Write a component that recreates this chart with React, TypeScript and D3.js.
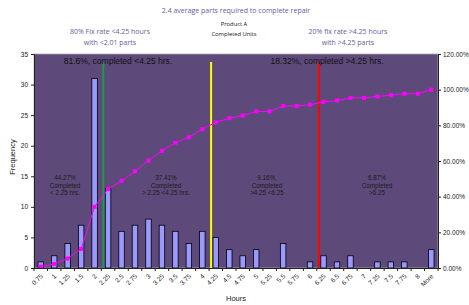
import React, { useEffect, useRef } from "react";
import * as d3 from "d3";

const hours = ["0.75", "1", "1.25", "1.5", "2", "2.25", "2.5", "2.75", "3", "3.25", "3.5", "3.75", "4", "4.25", "4.5", "4.75", "5", "5.25", "5.5", "5.75", "6", "6.25", "6.5", "6.75", "7", "7.25", "7.5", "7.75", "8", "More"];
const frequency = [1, 2, 4, 7, 31, 13, 6, 7, 8, 7, 6, 4, 6, 5, 3, 2, 3, 0, 4, 0, 1, 2, 1, 2, 0, 1, 1, 1, 0, 3];
const cumulative = [0.76, 2.29, 5.34, 10.69, 34.35, 44.27, 48.85, 54.2, 60.31, 65.65, 70.23, 73.28, 77.86, 81.68, 83.97, 85.5, 87.79, 87.79, 90.84, 90.84, 91.6, 93.13, 93.89, 95.42, 95.42, 96.18, 96.95, 97.71, 97.71, 100];
const freqTicks = [0, 5, 10, 15, 20, 25, 30, 35];
const pctTicks = [0, 20, 40, 60, 80, 100, 120];

const cutoffs = [
  { at: "2.25", color: "#1f9a4a" },
  { at: "4.25", color: "#ffff00" },
  { at: "6.25", color: "#ff0000" },
];
const zoneNotes = [
  { x: 31, lines: ["44.27%", "Completed", "< 2.25 hrs."] },
  { x: 132, lines: ["37.41%", "Completed", "> 2.25  <4.25 hrs."] },
  { x: 233, lines: ["9.16%,", "Completed", ">4.25 <6.25"] },
  { x: 343, lines: ["6.87%", "Completed", ">6.25"] },
];
const bandNotes = [
  { x: 84, text: "81.6%, completed <4.25 hrs." },
  { x: 293, text: "18.32%, completed  >4.25 hrs." },
];

const W = 469;
const H = 305;

export default function App() {
  const ref = useRef<SVGSVGElement>(null);

  useEffect(() => {
    const svg = d3.select(ref.current);
    svg.selectAll("*").remove();

    const margin = { top: 54, left: 34, right: 31, bottom: 37 };
    const iw = W - margin.left - margin.right;
    const ih = H - margin.top - margin.bottom;
    const sans = "'Liberation Sans', Arial, sans-serif";
    const soft = "'Open Sans', 'DejaVu Sans', sans-serif";

    // titles
    const top = svg.append("g").attr("font-family", soft).attr("text-anchor", "middle");
    top.append("text").attr("x", 236).attr("y", 11).attr("dy", "0.35em")
      .attr("font-size", 7).attr("fill", "#6b5b9b").text("2.4 average parts required to complete repair");
    [["80% Fix rate <4.25 hours", 32], ["with <2.01 parts", 43]].forEach(([t, y]) =>
      top.append("text").attr("x", 110).attr("y", y).attr("dy", "0.35em")
        .attr("font-size", 7).attr("fill", "#6b5b9b").text(t as string));
    [["20% fix rate >4.25 hours", 32], ["with >4.25 parts", 43]].forEach(([t, y]) =>
      top.append("text").attr("x", 348).attr("y", y).attr("dy", "0.35em")
        .attr("font-size", 7).attr("fill", "#6b5b9b").text(t as string));
    [["Product A", 24], ["Completed Units", 34]].forEach(([t, y]) =>
      top.append("text").attr("x", 234).attr("y", y).attr("dy", "0.35em")
        .attr("font-size", 5.8).attr("fill", "#111").text(t as string));

    const g = svg.append("g").attr("transform", `translate(${margin.left},${margin.top})`);

    const x = d3.scaleBand<string>().domain(hours).range([0, iw]).padding(0);
    const y = d3.scaleLinear().domain([0, 35]).range([ih, 0]);
    const y2 = d3.scaleLinear().domain([0, 120]).range([ih, 0]);
    const barW = x.bandwidth() * 0.41;
    const cx = (h: string) => (x(h) as number) + x.bandwidth() / 2;

    g.append("rect").attr("width", iw).attr("height", ih)
      .attr("fill", "#5e4a7a").attr("stroke", "#a8a8a8").attr("stroke-width", 0.8);

    // bars
    g.selectAll("rect.bar").data(frequency).enter().append("rect")
      .attr("class", "bar")
      .attr("x", (d, i) => cx(hours[i]) - barW / 2)
      .attr("y", d => y(d))
      .attr("width", barW)
      .attr("height", d => ih - y(d))
      .attr("fill", "#9999ff")
      .attr("stroke", "#000")
      .attr("stroke-width", 0.8);

    // cut-off lines
    g.selectAll("line.cut").data(cutoffs).enter().append("line")
      .attr("class", "cut")
      .attr("x1", d => (x(d.at) as number) + x.bandwidth() * 0.15)
      .attr("x2", d => (x(d.at) as number) + x.bandwidth() * 0.15)
      .attr("y1", 8)
      .attr("y2", ih)
      .attr("stroke", d => d.color)
      .attr("stroke-width", 2);

    // cumulative line
    const line = d3.line<number>().x((d, i) => cx(hours[i])).y(d => y2(d));
    g.append("path").datum(cumulative).attr("d", line)
      .attr("fill", "none").attr("stroke", "#ff00ff").attr("stroke-width", 1);
    g.selectAll("rect.pt").data(cumulative).enter().append("rect")
      .attr("class", "pt")
      .attr("x", (d, i) => cx(hours[i]) - 2)
      .attr("y", d => y2(d) - 2)
      .attr("width", 4).attr("height", 4)
      .attr("fill", "#ff00ff");

    // in-plot notes
    bandNotes.forEach(n =>
      g.append("text").attr("x", n.x).attr("y", 7).attr("dy", "0.35em")
        .attr("text-anchor", "middle").attr("font-family", sans).attr("font-size", 8.5)
        .attr("fill", "#111").text(n.text));
    zoneNotes.forEach(n => {
      n.lines.forEach((t, k) =>
        g.append("text").attr("x", n.x).attr("y", 124 + k * 7.5).attr("dy", "0.35em")
          .attr("text-anchor", "middle").attr("font-family", sans).attr("font-size", 6.3)
          .attr("fill", "#1a1a1a").text(t));
    });

    // axes
    const left = g.append("g").call(d3.axisLeft(y).tickValues(freqTicks).tickSize(3).tickPadding(3));
    const right = g.append("g").attr("transform", `translate(${iw},0)`)
      .call(d3.axisRight(y2).tickValues(pctTicks).tickSize(3).tickPadding(2)
        .tickFormat(d => `${(+d).toFixed(2)}%`));
    const bottom = g.append("g").attr("transform", `translate(0,${ih})`)
      .call(d3.axisBottom(x).tickSize(0).tickPadding(0));
    [left, right, bottom].forEach(a => {
      a.select(".domain").attr("stroke", "#222");
      a.selectAll("line").attr("stroke", "#222");
      a.selectAll("text").attr("font-family", sans).attr("font-size", 6.5).attr("fill", "#222");
    });
    bottom.select(".domain").attr("stroke", "#222");
    bottom.selectAll(".tick text")
      .attr("text-anchor", "end")
      .attr("transform", "translate(1,7) rotate(-45)")
      .attr("dy", "0.35em")
      .attr("y", 0);
    bottom.selectAll("line.bt").data(hours.concat(["end"])).enter().append("line")
      .attr("class", "bt")
      .attr("x1", (d, i) => i * x.step()).attr("x2", (d, i) => i * x.step())
      .attr("y1", 0).attr("y2", 3).attr("stroke", "#222");

    // axis titles
    svg.append("text").attr("x", 236).attr("y", 298).attr("dy", "0.35em")
      .attr("text-anchor", "middle").attr("font-family", sans).attr("font-size", 7.5)
      .attr("fill", "#222").text("Hours");
    svg.append("text").attr("transform", "translate(12.5,157) rotate(-90)").attr("dy", "0.35em")
      .attr("text-anchor", "middle").attr("font-family", sans).attr("font-size", 7.5)
      .attr("fill", "#222").text("Frequency");
  }, []);

  return (
    <div style={{ position: "absolute", left: 0, top: 0 }}>
      <svg ref={ref} width={W} height={H} style={{ display: "block", background: "#fff" }} />
    </div>
  );
}
